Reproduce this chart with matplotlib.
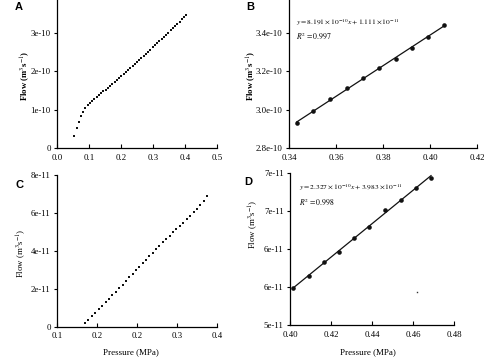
import matplotlib
matplotlib.use("Agg")
import matplotlib.pyplot as plt
import numpy as np

plt.rcParams['font.family'] = ['Liberation Serif', 'DejaVu Serif']
plt.rcParams['mathtext.fontset'] = 'stix'

# ---- Panel A data (Flow vs Pressure) ----
a_x = [0.054, 0.061, 0.068, 0.075, 0.082, 0.089, 0.096, 0.103, 0.110, 0.117,
       0.124, 0.131, 0.138, 0.145, 0.152, 0.159, 0.166, 0.173, 0.180, 0.187,
       0.194, 0.201, 0.208, 0.215, 0.222, 0.229, 0.236, 0.243, 0.250, 0.257,
       0.264, 0.271, 0.278, 0.285, 0.292, 0.299, 0.306, 0.313, 0.320, 0.327,
       0.334, 0.341, 0.348, 0.355, 0.362, 0.369, 0.376, 0.383, 0.390, 0.397,
       0.404]
a_y = [0.30, 0.52, 0.68, 0.82, 0.94, 1.03, 1.11, 1.17, 1.22, 1.27,
       1.32, 1.37, 1.42, 1.47, 1.52, 1.57, 1.62, 1.67, 1.72, 1.77,
       1.82, 1.87, 1.92, 1.97, 2.03, 2.08, 2.13, 2.18, 2.24, 2.29,
       2.35, 2.40, 2.45, 2.51, 2.56, 2.62, 2.67, 2.73, 2.78, 2.84,
       2.89, 2.95, 3.00, 3.06, 3.12, 3.17, 3.23, 3.29, 3.35, 3.40,
       3.46]  # x 1e-10

# ---- Panel B data ----
b_x = [0.3433, 0.3504, 0.3574, 0.3645, 0.3714, 0.3784, 0.3854, 0.3925, 0.3990, 0.4060]
b_y = [2.929, 2.990, 3.054, 3.112, 3.164, 3.216, 3.265, 3.320, 3.376, 3.442]  # x 1e-10

# ---- Panel C data ----
c_x = [0.153, 0.159, 0.166, 0.172, 0.178, 0.185, 0.191, 0.197, 0.204, 0.210,
       0.216, 0.223, 0.229, 0.235, 0.242, 0.248, 0.254, 0.261, 0.267, 0.273,
       0.280, 0.286, 0.292, 0.299, 0.305, 0.311, 0.318, 0.324, 0.330, 0.337,
       0.343, 0.349, 0.356, 0.362, 0.368, 0.375, 0.381]
c_y = [0.16, 0.35, 0.54, 0.72, 0.91, 1.10, 1.28, 1.47, 1.65, 1.84,
       2.03, 2.21, 2.40, 2.59, 2.77, 2.96, 3.15, 3.34, 3.52, 3.71,
       3.90, 4.08, 4.27, 4.45, 4.63, 4.80, 4.97, 5.14, 5.30, 5.48,
       5.66, 5.85, 6.04, 6.23, 6.43, 6.64, 6.88]  # x 1e-11

# ---- Panel D data ----
d_x = [0.4016, 0.4094, 0.4167, 0.4240, 0.4314, 0.4387, 0.4463, 0.4540, 0.4613, 0.4688]
d_y = [5.490, 5.644, 5.835, 5.966, 6.142, 6.293, 6.518, 6.645, 6.803, 6.939]  # x 1e-11
d_speck_x = [0.4618]
d_speck_y = [5.43]

# ---- ticks ----
a_xticks = [0.0, 0.1, 0.2, 0.3, 0.4, 0.5]
a_xlabels = ["0.0", "0.1", "0.2", "0.3", "0.4", "0.5"]
a_yticks = [0, 1e-10, 2e-10, 3e-10]
a_ylabels = ["0", "1e-10", "2e-10", "3e-10"]
b_xticks = [0.34, 0.36, 0.38, 0.40, 0.42]
b_xlabels = ["0.34", "0.36", "0.38", "0.40", "0.42"]
b_yticks = [2.8e-10, 3.0e-10, 3.2e-10, 3.4e-10]
b_ylabels = ["2.8e-10", "3.0e-10", "3.2e-10", "3.4e-10"]
c_xticks = [0.1, 0.175, 0.25, 0.325, 0.4]
c_xlabels = ["0.1", "0.2", "0.2", "0.3", "0.4"]
c_yticks = [0, 2e-11, 4e-11, 6e-11, 8e-11]
c_ylabels = ["0", "2e-11", "4e-11", "6e-11", "8e-11"]
d_xticks = [0.40, 0.42, 0.44, 0.46, 0.48]
d_xlabels = ["0.40", "0.42", "0.44", "0.46", "0.48"]
d_yticks = [5.0e-11, 5.5e-11, 6.0e-11, 6.5e-11, 7.0e-11]
d_ylabels = ["5e-11", "6e-11", "6e-11", "7e-11", "7e-11"]

W, H = 500, 364
fig = plt.figure(figsize=(W / 100, H / 100), dpi=100)


def add(l, r, b, t):
    return fig.add_axes([l / W, 1 - b / H, (r - l) / W, (b - t) / H])


def style(ax, xt, xl, yt, yl):
    for s in ("top", "right"):
        ax.spines[s].set_visible(False)
    for s in ("left", "bottom"):
        ax.spines[s].set_linewidth(0.9)
    ax.set_xticks(xt)
    ax.set_xticklabels(xl)
    ax.set_yticks(yt)
    ax.set_yticklabels(yl)
    ax.tick_params(axis="x", direction="in", length=3, width=0.8, pad=4, labelsize=6.3)
    ax.tick_params(axis="y", direction="out", length=2, width=0.8, pad=2.5, labelsize=6.3)


axA = add(57, 217, 148, 0)
axB = add(289, 477, 148, 0)
axC = add(57, 217, 326.5, 175)
axD = add(290, 454, 325, 173)

# A
axA.plot(a_x, np.array(a_y) * 1e-10, 's', color='#111111', ms=1.7, mew=0)
axA.set_xlim(0, 0.5)
axA.set_ylim(0, 3.85e-10)
style(axA, a_xticks, a_xlabels, a_yticks, a_ylabels)

# B
bx = np.array(b_x)
by = np.array(b_y) * 1e-10
pb = np.polyfit(bx, by, 1)
axB.plot([bx[0], bx[-1]], np.polyval(pb, [bx[0], bx[-1]]), '-', color='#111111', lw=0.9)
axB.plot(bx, by, 'o', color='#111111', ms=3.3, mew=0)
axB.set_xlim(0.34, 0.42)
axB.set_ylim(2.8e-10, 3.57e-10)
style(axB, b_xticks, b_xlabels, b_yticks, b_ylabels)

# C
axC.plot(c_x, np.array(c_y) * 1e-11, 's', color='#111111', ms=1.9, mew=0)
axC.set_xlim(0.1, 0.4)
axC.set_ylim(0, 8e-11)
style(axC, c_xticks, c_xlabels, c_yticks, c_ylabels)

# D
dx = np.array(d_x)
dy = np.array(d_y) * 1e-11
pd_ = np.polyfit(dx, dy, 1)
axD.plot([dx[0], dx[-1]], np.polyval(pd_, [dx[0], dx[-1]]), '-', color='#111111', lw=0.9)
axD.plot(dx, dy, 'o', color='#111111', ms=3.3, mew=0)
axD.plot(d_speck_x, np.array(d_speck_y) * 1e-11, 's', color='#333333', ms=1.0, mew=0)
axD.set_xlim(0.40, 0.48)
axD.set_ylim(5e-11, 7e-11)
style(axD, d_xticks, d_xlabels, d_yticks, d_ylabels)


def ftext(x, y, s, **kw):
    fig.text(x / W, 1 - y / H, s, **kw)


# panel letters
for (x, y, s) in [(19, 7, "A"), (250, 7, "B"), (20, 185, "C"), (248, 182, "D")]:
    ftext(x, y, s, ha="center", va="center", fontsize=8,
          family=["Liberation Sans", "DejaVu Sans"], fontweight="bold")

flow = r"Flow (m$^{3}$s$^{-1}$)"
ftext(25, 76, flow, rotation=90, ha="center", va="center", fontsize=6.3, fontweight="bold")
ftext(251, 76, flow, rotation=90, ha="center", va="center", fontsize=6.3, fontweight="bold")
ftext(21, 253, flow, rotation=90, ha="center", va="center", fontsize=6.3)
ftext(253, 224, flow, rotation=90, ha="center", va="center", fontsize=6.3)

ftext(131, 352, "Pressure (MPa)", ha="center", va="center", fontsize=6.5)
ftext(368, 352, "Pressure (MPa)", ha="center", va="center", fontsize=6.5)

# equations
ftext(296, 23, r"$y = 8.191\times10^{-10}x + 1.111\times10^{-11}$", ha="left", va="center", fontsize=5.4)
ftext(296, 36, r"$R^{2} = 0.997$", ha="left", va="center", fontsize=5.6)
ftext(299, 188, r"$y = 2.327\times10^{-10}x + 3.983\times10^{-11}$", ha="left", va="center", fontsize=5.4)
ftext(299, 202, r"$R^{2} = 0.998$", ha="left", va="center", fontsize=5.6)

fig.savefig("out.png", dpi=100, facecolor="white")
